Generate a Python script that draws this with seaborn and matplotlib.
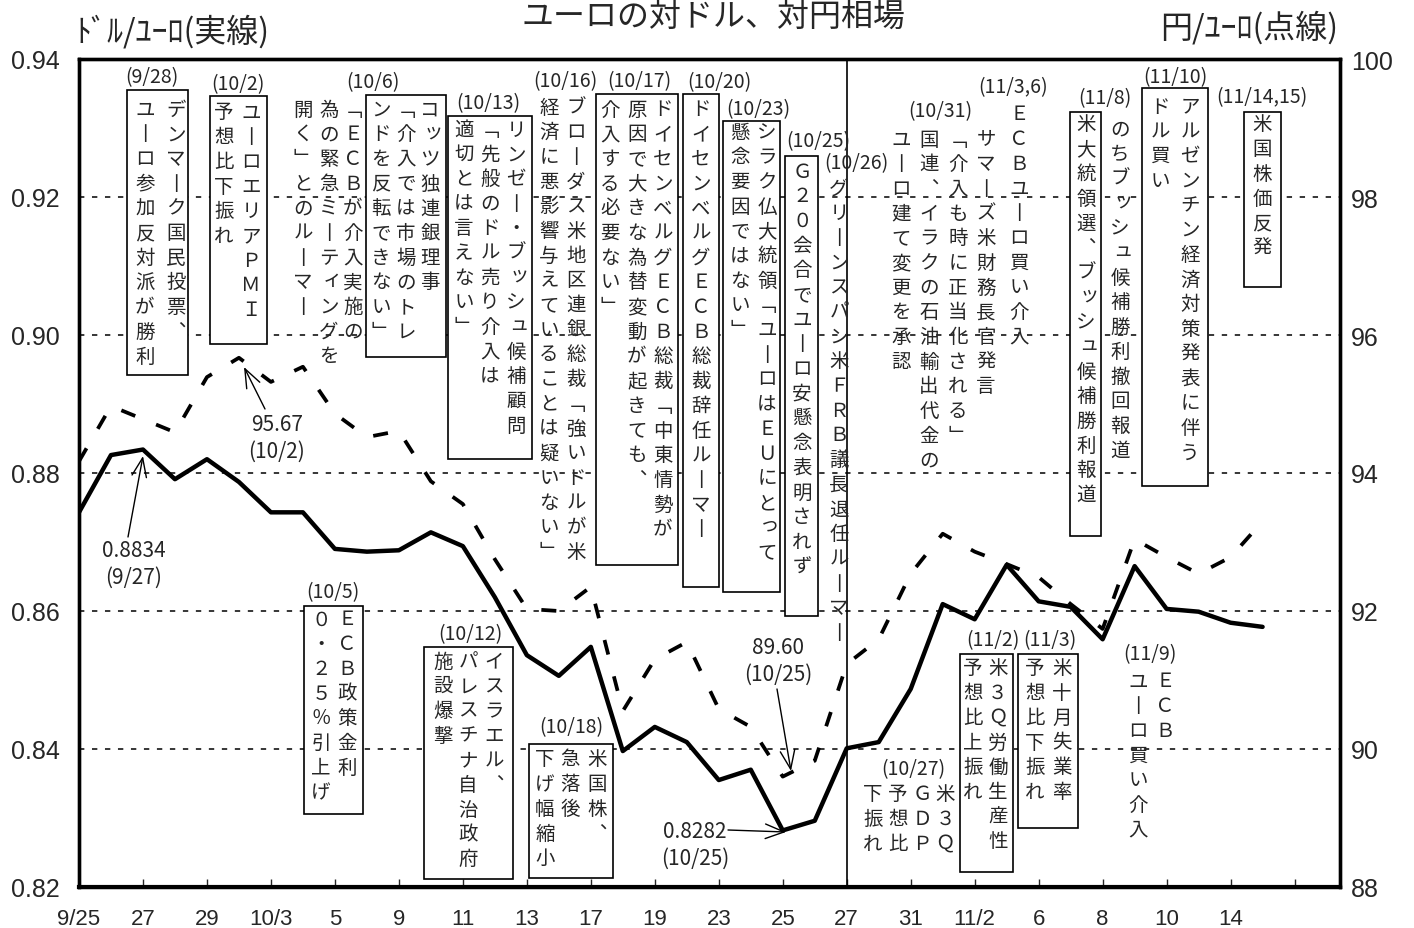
import matplotlib
matplotlib.use('Agg')
import matplotlib.pyplot as plt
import matplotlib.transforms as mtransforms
from matplotlib.patches import Rectangle
from matplotlib import font_manager
import pandas as pd
import seaborn as sns

# business days 9/25 - 11/15
dates = ['9/25', '9/26', '9/27', '9/28', '9/29', '10/2', '10/3', '10/4', '10/5', '10/6',
         '10/9', '10/10', '10/11', '10/12', '10/13', '10/16', '10/17', '10/18', '10/19', '10/20',
         '10/23', '10/24', '10/25', '10/26', '10/27', '10/30', '10/31', '11/1', '11/2', '11/3',
         '11/6', '11/7', '11/8', '11/9', '11/10', '11/13', '11/14', '11/15']

# ドル/ユーロ (solid)
usd_eur = [0.8743, 0.8826, 0.8834, 0.8791, 0.8820, 0.8787, 0.8743, 0.8743, 0.8690, 0.8686,
           0.8688, 0.8714, 0.8694, 0.8620, 0.8536, 0.8506, 0.8548, 0.8397, 0.8432, 0.8410,
           0.8355, 0.8370, 0.8282, 0.8296, 0.8401, 0.8410, 0.8487, 0.8610, 0.8588, 0.8667,
           0.8614, 0.8606, 0.8559, 0.8665, 0.8603, 0.8599, 0.8583, 0.8577]

# 円/ユーロ (dashed)
jpy_eur = [94.17, 94.97, 94.78, 94.59, 95.39, 95.67, 95.32, 95.54, 94.86, 94.52,
           94.61, 93.88, 93.55, 92.75, 92.03, 92.00, 92.35, 90.55, 91.30, 91.55,
           90.58, 90.32, 89.60, 89.83, 91.23, 91.59, 92.54, 93.12, 92.86, 92.68,
           92.49, 92.10, 91.74, 93.04, 92.78, 92.54, 92.78, 93.30]

left_ticks = [0.82, 0.84, 0.86, 0.88, 0.90, 0.92, 0.94]
right_ticks = [88, 90, 92, 94, 96, 98, 100]

title = 'ユーロの対ドル、対円相場'
left_name = 'ﾄﾞﾙ/ﾕｰﾛ(実線)'
right_name = '円/ﾕｰﾛ(点線)'

# news notes: (date label, label pos, box, columns right->left as (x, y0, text)), pixel layout
notes = [
    ('(9/28)', (152, 78), (127, 91, 188, 376),
     [(176, 110, 'デンマーク国民投票、'), (145, 110, 'ユーロ参加反対派が勝利')]),
    ('(10/2)', (238, 85), (210, 97, 267, 345),
     [(251, 113, 'ユーロエリアＰＭＩ'), (224, 113, '予想比下振れ')]),
    ('(10/6)', (373, 83), None,
     [(353, 110, '「ＥＣＢが介入実施の'), (329, 110, '為の緊急ミーティングを'), (303, 110, '開く」とのルーマー')]),
    (None, None, (366, 96, 446, 358),
     [(430, 110, 'コッツ独連銀理事'), (406, 110, '「介入では市場のトレ'), (381, 110, 'ンドを反転できない」')]),
    ('(10/13)', (488, 104), (448, 117, 532, 460),
     [(516, 130, 'リンゼー・ブッシュ候補顧問'), (490, 130, '「先般のドル売り介入は'), (464, 130, '適切とは言えない」')]),
    ('(10/16)', (565, 82), None,
     [(576, 108, 'ブローダス米地区連銀総裁「強いドルが米'), (549, 108, '経済に悪影響与えていることは疑いない」')]),
    ('(10/17)', (639, 82), (596, 95, 678, 566),
     [(663, 110, 'ドイセンベルグＥＣＢ総裁「中東情勢が'), (637, 110, '原因で大きな為替変動が起きても、'),
      (610, 110, '介入する必要ない」')]),
    ('(10/20)', (719, 83), (683, 95, 719, 588),
     [(701, 110, 'ドイセンベルグＥＣＢ総裁辞任ルーマー')]),
    ('(10/23)', (758, 110), (723, 122, 780, 593),
     [(767, 133, 'シラク仏大統領「ユーロはＥＵにとって'), (740, 133, '懸念要因ではない」')]),
    ('(10/25)', (818, 142), (785, 157, 818, 617),
     [(802, 172, 'Ｇ２０会合でユーロ安懸念表明されず')]),
    ('(10/26)', (856, 164), None,
     [(839, 189, 'グリーンスパン米ＦＲＢ議長退任ルーマー')]),
    ('(10/31)', (940, 112), None,
     [(929, 140, '国連、イラクの石油輸出代金の'), (901, 140, 'ユーロ建て変更を承認')]),
    ('(11/3,6)', (1013, 88), None,
     [(1019, 115, 'ＥＣＢユーロ買い介入'), (986, 140, 'サマーズ米財務長官発言'), (958, 140, '「介入も時に正当化される」')]),
    ('(11/8)', (1105, 99), (1070, 113, 1101, 537),
     [(1086, 125, '米大統領選、ブッシュ候補勝利報道')]),
    (None, None, None,
     [(1120, 130, 'のちブッシュ候補勝利撤回報道')]),
    ('(11/10)', (1175, 78), (1142, 89, 1208, 487),
     [(1190, 107, 'アルゼンチン経済対策発表に伴う'), (1160, 107, 'ドル買い')]),
    ('(11/14,15)', (1262, 98), (1244, 113, 1281, 288),
     [(1262, 125, '米国株価反発')]),
    ('(10/5)', (333, 593), (304, 607, 363, 815),
     [(347, 620, 'ＥＣＢ政策金利'), (321, 620, '０・２５％引上げ')]),
    ('(10/12)', (470, 635), (424, 648, 513, 880),
     [(494, 662, 'イスラエル、'), (468, 662, 'パレスチナ自治政府'), (443, 662, '施設爆撃')]),
    ('(10/18)', (571, 728), (529, 745, 613, 879),
     [(597, 760, '米国株、'), (570, 760, '急落後'), (545, 760, '下げ幅縮小')]),
    ('(10/27)', (913, 770), None,
     [(945, 795, '米３Ｑ'), (922, 795, 'ＧＤＰ'), (898, 795, '予想比'), (873, 795, '下振れ')]),
    ('(11/2)', (993, 641), (960, 655, 1013, 873),
     [(998, 669, '米３Ｑ労働生産性'), (973, 669, '予想比上振れ')]),
    ('(11/3)', (1050, 641), (1018, 655, 1078, 829),
     [(1062, 669, '米十月失業率'), (1035, 669, '予想比下振れ')]),
    ('(11/9)', (1150, 655), None,
     [(1165, 682, 'ＥＣＢ'), (1138, 682, 'ユーロ買い介入')]),
]

# value callouts: value, date, text centre, arrow tail, arrow tip (pixels)
callouts = [
    ('0.8834', '(9/27)', (134, 551), (128, 538), (143, 457)),
    ('95.67', '(10/2)', (277, 425), (265, 410), (244, 368)),
    ('0.8282', '(10/25)', (695, 832), (728, 831), (786, 833)),
    ('89.60', '(10/25)', (778, 648), (777, 690), (791, 772)),
]

sns.set_style('white')
plt.rcParams['font.family'] = ['Noto Sans CJK JP', 'DejaVu Sans']

try:
    font_manager.findfont('Liberation Sans Narrow', fallback_to_default=False)
    tick_font = 'Liberation Sans Narrow'
except Exception:
    tick_font = 'Liberation Sans'

W, H = 1414, 929
fig = plt.figure(figsize=(W / 100, H / 100), dpi=100)
pix = mtransforms.Affine2D().scale(1 / W, -1 / H).translate(0, 1) + fig.transFigure

ax = fig.add_axes([79 / W, 1 - 888 / H, (1340 - 79) / W, (888 - 60) / H])
ax2 = ax.twinx()

df = pd.DataFrame({'day': range(len(dates)), 'usd': usd_eur, 'jpy': jpy_eur})
sns.lineplot(data=df, x='day', y='usd', ax=ax, color='black', linewidth=3.2)
sns.lineplot(data=df, x='day', y='jpy', ax=ax2, color='black', linewidth=2.7)
ax2.lines[0].set_linestyle((0, (4, 6)))

ax.set_xlim(0, 39.42)
ax.set_ylim(0.82, 0.94)
ax2.set_ylim(88, 100)
ax.set_xlabel('')
ax.set_ylabel('')
ax2.set_ylabel('')

# x ticks every second business day, month shown when it changes
labels = []
prev_month = None
for d in dates[::2]:
    m, day = d.split('/')
    labels.append(d if m != prev_month else day)
    prev_month = m
ax.set_xticks(range(0, 39, 2))
ax.set_xticklabels(labels + [''])
ax.tick_params(axis='x', direction='in', length=6, width=1, pad=15,
               labelsize=16, labelfontfamily=tick_font, bottom=True)

ax.set_yticks(left_ticks)
ax.set_yticklabels([f'{v:.2f}' for v in left_ticks])
ax.tick_params(axis='y', length=0, pad=14, labelsize=18, labelfontfamily=tick_font)
ax2.set_yticks(right_ticks)
ax2.tick_params(axis='y', length=0, pad=8, labelsize=18, labelfontfamily=tick_font)

ax.grid(axis='y', color='black', linestyle=(0, (3.5, 5)), linewidth=1.1)
ax.grid(axis='x', visible=False)
ax.set_axisbelow(True)
ax.axvline(24, color='black', linewidth=1.2)

for a in (ax, ax2):
    for sp in a.spines.values():
        sp.set_visible(True)
        sp.set_linewidth(2.4)
        sp.set_color('black')
ax.spines['bottom'].set_linewidth(3)

# headers
fig.text(713, 17, title, transform=pix, ha='center', va='center', fontsize=23)
fig.text(75, 32, left_name, transform=pix, ha='left', va='center', fontsize=23)
fig.text(1160, 28, right_name, transform=pix, ha='left', va='center', fontsize=23)

VERT = {'ー': '丨', '「': '﹁', '」': '﹂', '、': '︑'}
SMALL = set('ッュィっャョァ')


def vcol(x, y0, s, pitch=24.7, size=14):
    # tategaki: one glyph under the other
    for k, ch in enumerate(s):
        dx, dy = (3, -3) if ch in SMALL else (0, 0)
        fig.text(x + dx, y0 + k * pitch + dy, VERT.get(ch, ch), transform=pix,
                 ha='center', va='center', fontsize=size)


for label, lpos, box, cols in notes:
    if box is not None:
        x0, y0, x1, y1 = box
        fig.add_artist(Rectangle((x0, y0), x1 - x0, y1 - y0, transform=pix,
                                 facecolor='white', edgecolor='black', linewidth=1.2))
    if label:
        fig.text(lpos[0], lpos[1], label, transform=pix, ha='center', va='center', fontsize=14)
    for cx, cy, s in cols:
        vcol(cx, cy, s)

for val, day, (tx, ty), tail, tip in callouts:
    fig.text(tx, ty, val, transform=pix, ha='center', va='center', fontsize=15)
    fig.text(tx, ty + 27, day, transform=pix, ha='center', va='center', fontsize=15)
    ax.annotate('', xy=tip, xytext=tail, xycoords=pix, textcoords=pix,
                arrowprops=dict(arrowstyle='->,head_length=0.9,head_width=0.35',
                                lw=1.0, color='black', shrinkA=0, shrinkB=0,
                                mutation_scale=15))

fig.savefig('out.png', dpi=100)
